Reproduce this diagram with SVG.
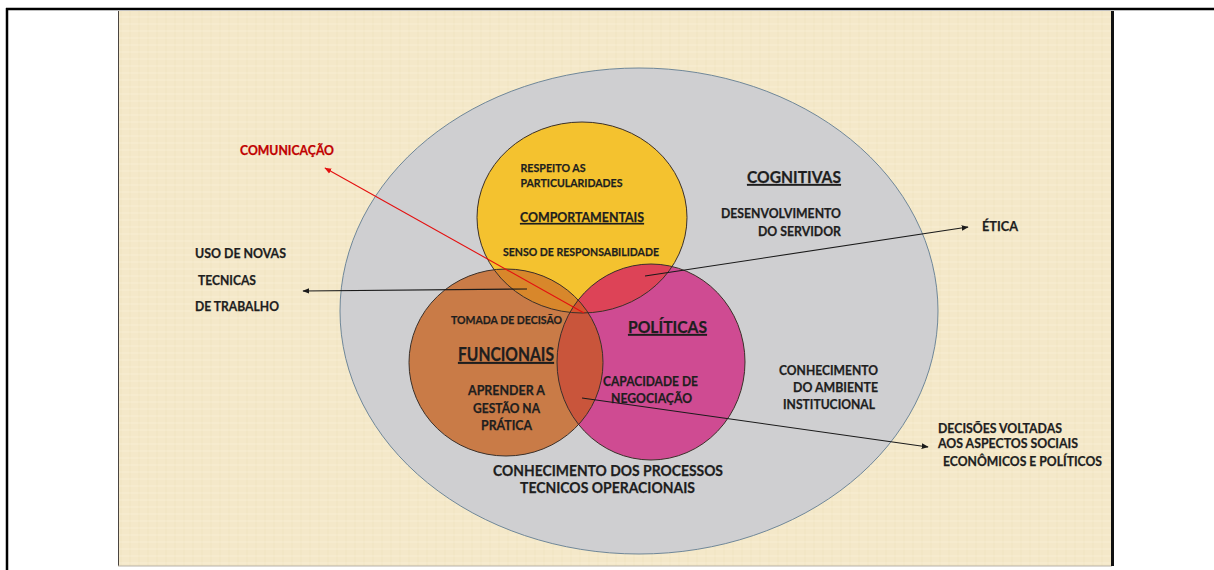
<svg xmlns="http://www.w3.org/2000/svg" width="1214" height="570" viewBox="0 0 1214 570">
  <defs>
    <style>
      .t { font-family: Lato, "Liberation Sans", sans-serif; font-weight: bold; fill: #1e1e1e; stroke: #1e1e1e; stroke-width: 0.25; }
      .red { fill: #c00000; stroke: #c00000; }
      .u { text-decoration: underline; }
      .ring { stroke: #3b3029; stroke-width: 1; fill: none; }
      .arrow { stroke: #1a1a1a; stroke-width: 1.1; fill: none; marker-end: url(#ah); }
      .arrowRed { stroke: #e41010; stroke-width: 1.1; fill: none; marker-end: url(#ahRed); }
    </style>
    <marker id="ah" viewBox="0 0 10 10" refX="9" refY="5" markerWidth="7" markerHeight="7" markerUnits="userSpaceOnUse" orient="auto">
      <path d="M0,1 L10,5 L0,9 Z" fill="#1a1a1a"/>
    </marker>
    <marker id="ahRed" viewBox="0 0 10 10" refX="9" refY="5" markerWidth="7" markerHeight="7" markerUnits="userSpaceOnUse" orient="auto">
      <path d="M0,1 L10,5 L0,9 Z" fill="#e41010"/>
    </marker>
    <pattern id="paper" width="9" height="7" patternUnits="userSpaceOnUse">
      <rect width="9" height="7" fill="#f4e8c9"/>
      <line x1="4" y1="0" x2="4" y2="7" stroke="#e8d9b3" stroke-width="1" opacity="0.4"/>
      <line x1="0" y1="3" x2="9" y2="3" stroke="#fbf2dc" stroke-width="1" opacity="0.5"/>
    </pattern>
    <clipPath id="cY"><ellipse cx="582" cy="217.5" rx="105" ry="95.5"/></clipPath>
    <clipPath id="cO"><ellipse cx="506" cy="362.5" rx="97" ry="93.5"/></clipPath>
    <clipPath id="cM"><ellipse cx="651" cy="362" rx="94" ry="98"/></clipPath>
  </defs>

  <!-- page frame -->
  <rect x="0" y="0" width="1214" height="570" fill="#ffffff"/>
  <line x1="6" y1="9" x2="1214" y2="9" stroke="#000" stroke-width="2.5"/>
  <line x1="7" y1="8" x2="7" y2="570" stroke="#000" stroke-width="2.5"/>

  <!-- slide background -->
  <rect x="118" y="11" width="994" height="555" fill="url(#paper)"/>
  <line x1="118.5" y1="11" x2="118.5" y2="566" stroke="#4a4440" stroke-width="1"/>
  <line x1="118" y1="566" x2="1112" y2="566" stroke="#b8b2a6" stroke-width="1"/>
  <line x1="1112.5" y1="11" x2="1112.5" y2="566" stroke="#111" stroke-width="3"/>

  <!-- outer ellipse -->
  <g id="cognitivas">
    <ellipse cx="639" cy="311" rx="299" ry="243" fill="#cfcfd1" stroke="#6f8799" stroke-width="1"/>
    <text class="t u" x="747" y="183" font-size="17.5" textLength="94" lengthAdjust="spacingAndGlyphs">COGNITIVAS</text>
    <text class="t" x="721" y="218" font-size="13" textLength="120" lengthAdjust="spacingAndGlyphs">DESENVOLVIMENTO</text>
    <text class="t" x="758" y="236" font-size="13" textLength="83" lengthAdjust="spacingAndGlyphs">DO SERVIDOR</text>
    <text class="t" x="779" y="375" font-size="13" textLength="99" lengthAdjust="spacingAndGlyphs">CONHECIMENTO</text>
    <text class="t" x="793" y="392" font-size="13" textLength="85" lengthAdjust="spacingAndGlyphs">DO AMBIENTE</text>
    <text class="t" x="783" y="409" font-size="13" textLength="92" lengthAdjust="spacingAndGlyphs">INSTITUCIONAL</text>
    <text class="t" x="493" y="476" font-size="15.5" textLength="230" lengthAdjust="spacingAndGlyphs">CONHECIMENTO DOS PROCESSOS</text>
    <text class="t" x="520" y="493" font-size="15.5" textLength="175" lengthAdjust="spacingAndGlyphs">TECNICOS OPERACIONAIS</text>
  </g>

  <!-- circle fills -->
  <g id="comportamentais-fill">
    <ellipse cx="582" cy="217.5" rx="105" ry="95.5" fill="#f4c22f"/>
  </g>
  <g id="funcionais-fill">
    <ellipse cx="506" cy="362.5" rx="97" ry="93.5" fill="#c97b47"/>
    <ellipse cx="506" cy="362.5" rx="97" ry="93.5" fill="#d8872b" clip-path="url(#cY)"/>
  </g>
  <g id="politicas-fill">
    <ellipse cx="651" cy="362" rx="94" ry="98" fill="#cf4b92"/>
    <ellipse cx="651" cy="362" rx="94" ry="98" fill="#dd4357" clip-path="url(#cY)"/>
    <g clip-path="url(#cO)">
      <ellipse cx="651" cy="362" rx="94" ry="98" fill="#c9553b"/>
      <ellipse cx="651" cy="362" rx="94" ry="98" fill="#d4532f" clip-path="url(#cY)"/>
    </g>
  </g>

  <!-- circle outlines -->
  <ellipse class="ring" cx="582" cy="217.5" rx="105" ry="95.5"/>
  <ellipse class="ring" cx="506" cy="362.5" rx="97" ry="93.5"/>
  <ellipse class="ring" cx="651" cy="362" rx="94" ry="98"/>

  <!-- circle labels -->
  <g id="comportamentais">
    <text class="t" x="520.5" y="172" font-size="12" textLength="65" lengthAdjust="spacingAndGlyphs">RESPEITO AS</text>
    <text class="t" x="520.5" y="187" font-size="12" textLength="102" lengthAdjust="spacingAndGlyphs">PARTICULARIDADES</text>
    <text class="t u" x="520" y="222" font-size="14" textLength="124" lengthAdjust="spacingAndGlyphs">COMPORTAMENTAIS</text>
    <text class="t" x="503" y="256" font-size="12" textLength="156" lengthAdjust="spacingAndGlyphs">SENSO DE RESPONSABILIDADE</text>
  </g>
  <g id="funcionais">
    <text class="t" x="451" y="324" font-size="12" textLength="111" lengthAdjust="spacingAndGlyphs">TOMADA DE DECISÃO</text>
    <text class="t u" x="458" y="361" font-size="19" textLength="96" lengthAdjust="spacingAndGlyphs">FUNCIONAIS</text>
    <text class="t" x="468" y="395" font-size="13.5" textLength="77" lengthAdjust="spacingAndGlyphs">APRENDER A</text>
    <text class="t" x="473" y="413" font-size="13.5" textLength="67" lengthAdjust="spacingAndGlyphs">GESTÃO NA</text>
    <text class="t" x="481" y="430" font-size="13.5" textLength="51" lengthAdjust="spacingAndGlyphs">PRÁTICA</text>
  </g>
  <g id="politicas">
    <text class="t u" x="628" y="333" font-size="17.5" textLength="79" lengthAdjust="spacingAndGlyphs">POLÍTICAS</text>
    <text class="t" x="603" y="386" font-size="13.5" textLength="95" lengthAdjust="spacingAndGlyphs">CAPACIDADE DE</text>
    <text class="t" x="611" y="403" font-size="13.5" textLength="81" lengthAdjust="spacingAndGlyphs">NEGOCIAÇÃO</text>
  </g>

  <!-- outside labels -->
  <g id="comunicacao">
    <text class="t red" x="240" y="155" font-size="13" textLength="94" lengthAdjust="spacingAndGlyphs">COMUNICAÇÃO</text>
  </g>
  <g id="novas-tecnicas">
    <text class="t" x="195" y="258" font-size="13" textLength="91" lengthAdjust="spacingAndGlyphs">USO DE NOVAS</text>
    <text class="t" x="198" y="285" font-size="13" textLength="58" lengthAdjust="spacingAndGlyphs">TECNICAS</text>
    <text class="t" x="195" y="311" font-size="13" textLength="84" lengthAdjust="spacingAndGlyphs">DE TRABALHO</text>
  </g>
  <g id="etica">
    <text class="t" x="982" y="231" font-size="13" textLength="36" lengthAdjust="spacingAndGlyphs">ÉTICA</text>
  </g>
  <g id="decisoes">
    <text class="t" x="938" y="433" font-size="13" textLength="124" lengthAdjust="spacingAndGlyphs">DECISÕES VOLTADAS</text>
    <text class="t" x="938" y="448" font-size="13" textLength="140" lengthAdjust="spacingAndGlyphs">AOS ASPECTOS SOCIAIS</text>
    <text class="t" x="943" y="466" font-size="13" textLength="159" lengthAdjust="spacingAndGlyphs">ECONÔMICOS E POLÍTICOS</text>
  </g>

  <!-- connectors -->
  <g id="connectors">
    <line class="arrowRed" x1="584" y1="313" x2="325" y2="168"/>
    <line class="arrow" x1="527" y1="289" x2="303" y2="291"/>
    <line class="arrow" x1="645" y1="276" x2="968" y2="227"/>
    <line class="arrow" x1="582" y1="398" x2="928" y2="447"/>
  </g>
</svg>
